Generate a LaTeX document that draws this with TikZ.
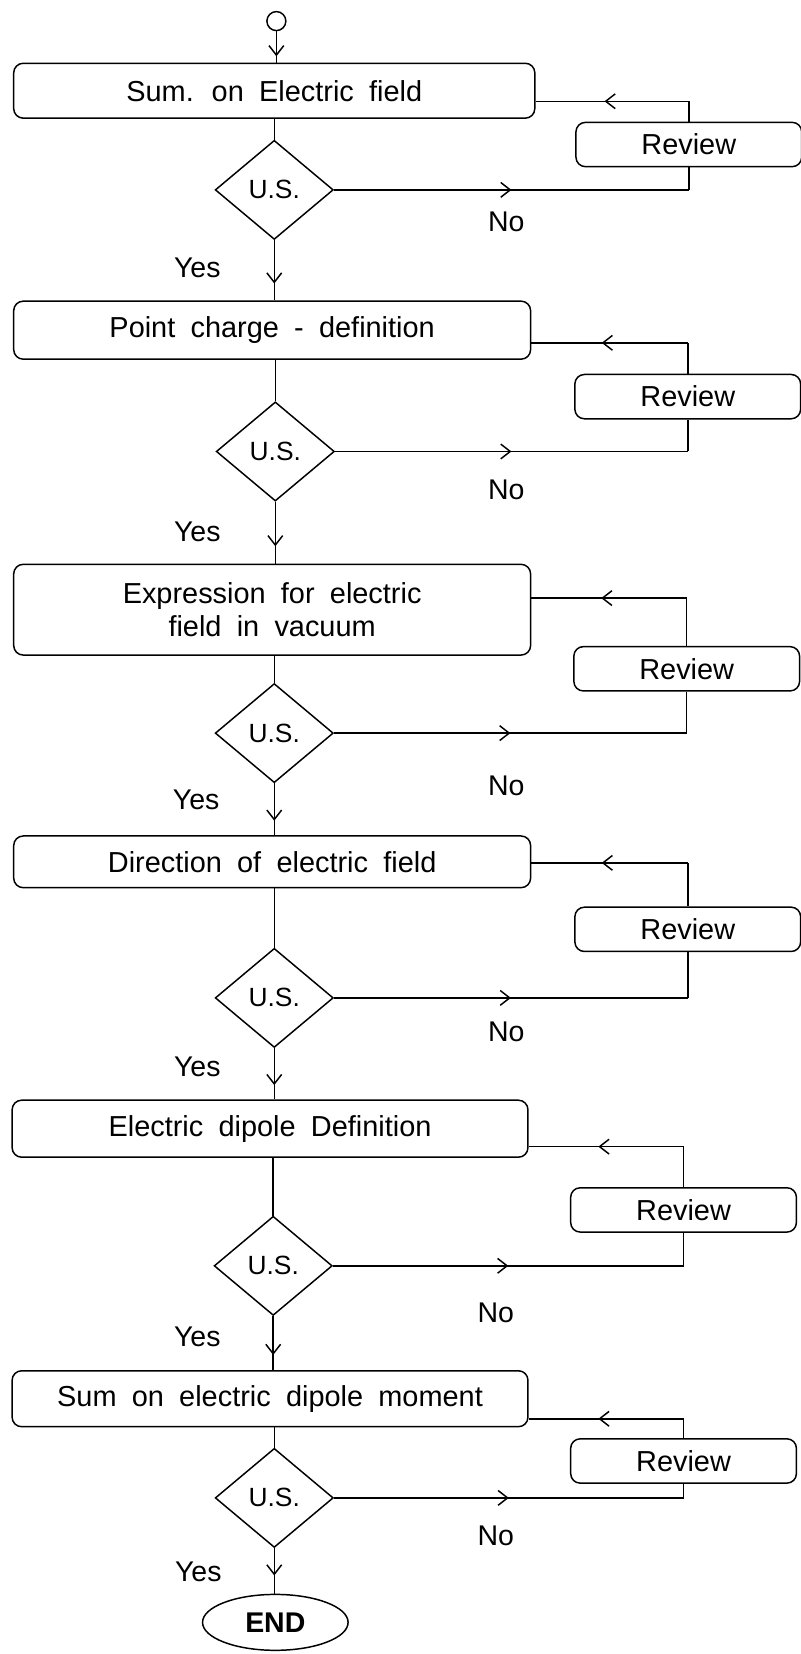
\documentclass[tikz,border=0pt]{standalone}
\usepackage{fontspec}
\setmainfont{Liberation Sans}
\newfontfamily\boxfont[WordSpace=1.9]{Liberation Sans}
\usetikzlibrary{shapes.geometric,arrows.meta,decorations.markings}
\begin{document}
\begin{tikzpicture}[x=0.5pt,y=-0.5pt,
  every node/.style={font=\fontsize{13.5}{16}\selectfont},
  line/.style={line width=0.7pt},
  stepbox/.style={draw, line width=0.7pt, rounded corners=4.5pt, inner sep=0pt, align=center,
    font=\boxfont\fontsize{13.7}{16}\selectfont},
  revbox/.style={draw, line width=0.7pt, rounded corners=4.5pt, inner sep=0pt,
    minimum width=107pt, minimum height=21pt, font=\fontsize{13.7}{16}\selectfont},
  usdiamond/.style={draw, line width=0.7pt, diamond, inner sep=0pt,
    minimum width=56pt, minimum height=47pt, font=\fontsize{12.5}{15}\selectfont},
  lbl/.style={font=\fontsize{13.5}{16}\selectfont},
  midarrow/.style={line, postaction={decorate}, decoration={markings,
    mark=at position #1 with {\arrow{Straight Barb[length=4.5pt,width=7pt,line width=0.7pt]}}}}
]
\useasboundingbox (0,0) rectangle (759,1568);

% start
\node[draw, line width=0.7pt, circle, minimum size=9pt, inner sep=0pt] (start) at (262,20) {};

% row 1
\node[stepbox, minimum width=247pt, minimum height=26pt] (b1) at (260,86) {Sum. on Electric field};
\node[revbox] (r1) at (653,137) {Review};
\node[usdiamond] (d1) at (260,180) {U.S.};
\coordinate (n1) at (d1.east -| r1.south);
\coordinate (f1) at (653,96);
\node[lbl] (no1) at (480,210) {No};
\node[lbl] (yes1) at (187,254) {Yes};

% row 2
\node[stepbox, minimum width=245pt, minimum height=27.5pt] (b2) at (258,313) {Point charge - definition};
\node[revbox] (r2) at (652,376) {Review};
\node[usdiamond] (d2) at (261,428) {U.S.};
\coordinate (n2) at (d2.east -| r2.south);
\coordinate (f2) at (652,325);
\node[lbl] (no2) at (480,464) {No};
\node[lbl] (yes2) at (187,504) {Yes};

% row 3
\node[stepbox, minimum width=245pt, minimum height=43pt] (b3) at (258,578) {Expression for electric\\field in vacuum};
\node[revbox] (r3) at (651,634) {Review};
\node[usdiamond] (d3) at (260,695) {U.S.};
\coordinate (n3) at (d3.east -| r3.south);
\coordinate (f3) at (651,567);
\node[lbl] (no3) at (480,745) {No};
\node[lbl] (yes3) at (186,758) {Yes};

% row 4
\node[stepbox, minimum width=245pt, minimum height=24.5pt] (b4) at (258,817) {Direction of electric field};
\node[revbox] (r4) at (652,881) {Review};
\node[usdiamond] (d4) at (260,946) {U.S.};
\coordinate (n4) at (d4.east -| r4.south);
\coordinate (f4) at (652,818);
\node[lbl] (no4) at (480,978) {No};
\node[lbl] (yes4) at (187,1011) {Yes};

% row 5
\node[stepbox, minimum width=244.5pt, minimum height=27pt] (b5) at (256,1070) {Electric dipole Definition};
\node[revbox] (r5) at (648,1147) {Review};
\node[usdiamond] (d5) at (259,1200) {U.S.};
\coordinate (n5) at (d5.east -| r5.south);
\coordinate (f5) at (648,1087);
\node[lbl] (no5) at (470,1245) {No};
\node[lbl] (yes5) at (187,1267) {Yes};

% row 6
\node[stepbox, minimum width=244.5pt, minimum height=26.5pt] (b6) at (256,1326) {Sum on electric dipole moment};
\node[revbox] (r6) at (648,1385) {Review};
\node[usdiamond] (d6) at (260,1420) {U.S.};
\coordinate (n6) at (d6.east -| r6.south);
\coordinate (f6) at (648,1345);
\node[lbl] (no6) at (470,1456) {No};
\node[lbl] (yes6) at (188,1490) {Yes};

% end
\node[draw, line width=0.7pt, ellipse, minimum width=69pt, minimum height=26.5pt, inner sep=0pt,
  font=\bfseries\fontsize{13.5}{16}\selectfont] (end) at (261,1538) {END};

% connectors
\draw[midarrow=0.8] (start) -- (start |- b1.north);
\foreach \i/\j in {1/2,2/3,3/4,4/5,5/6} {
  \draw[line] (d\i.north |- b\i.south) -- (d\i.north);
  \draw[midarrow=0.72] (d\i.south) -- (d\i.south |- b\j.north);
}
\draw[line] (d6.north |- b6.south) -- (d6.north);
\draw[midarrow=0.6] (d6.south) -- (d6.south |- end.north);

\foreach \i in {1,...,6} {
  \draw[midarrow=0.5] (d\i.east) -- (n\i);
  \draw[line] (n\i) -- (r\i.south);
  \draw[line] (r\i.north) -- (f\i);
  \draw[midarrow=0.55] (f\i) -- (b\i.east |- f\i);
}
\end{tikzpicture}
\end{document}
